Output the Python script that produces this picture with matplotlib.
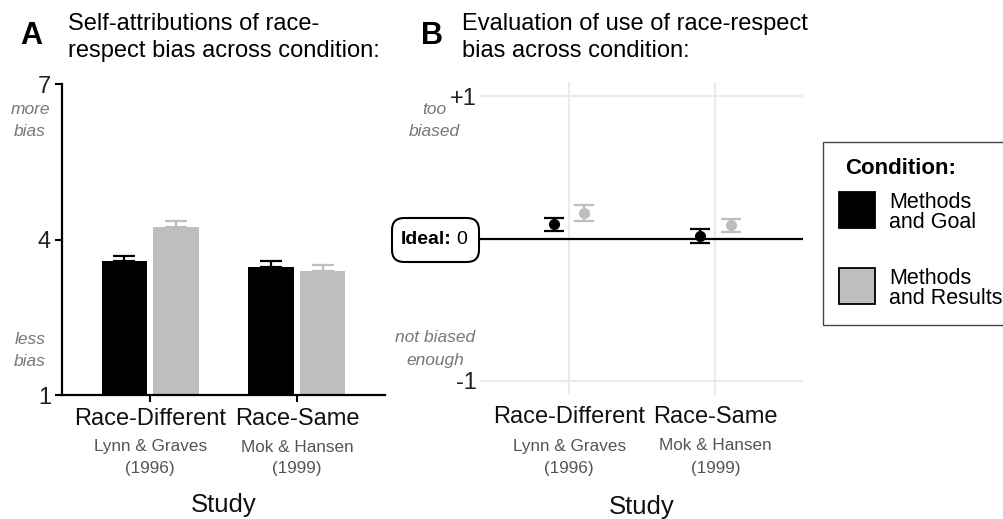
import matplotlib.pyplot as plt
from matplotlib.patches import FancyBboxPatch, Rectangle
import matplotlib.transforms as mtransforms
import numpy as np

plt.rcParams['font.family'] = ['Liberation Sans', 'DejaVu Sans']

# Data
categories = ["Race-Different", "Race-Same"]
studies = ["Lynn & Graves\n(1996)", "Mok & Hansen\n(1999)"]
conditions = ["Methods\nand Goal", "Methods\nand Results"]

# Panel A: self-attributed bias (1-7 scale), mean and SE
self_goal = [3.58, 3.47]
self_goal_se = [0.11, 0.11]
self_results = [4.24, 3.39]
self_results_se = [0.11, 0.11]

# Panel B: evaluation of bias use (-1..+1), mean and SE
eval_goal = [0.10, 0.016]
eval_goal_se = [0.047, 0.05]
eval_results = [0.18, 0.093]
eval_results_se = [0.055, 0.044]

BLACK = '#000000'
GRAY = '#bebebe'
NOTE = '#777777'
SUB = '#555555'

W, H = 1004, 519
fig = plt.figure(figsize=(W / 100, H / 100), dpi=100)


def fx(x):
    return x / W


def fy(y):
    return 1 - y / H


def axes_px(x0, y0, x1, y1):
    return fig.add_axes([fx(x0), fy(y1), fx(x1) - fx(x0), fy(y0) - fy(y1)])


x = np.arange(1, len(categories) + 1)

# ---------------- Panel A ----------------
axA = axes_px(62, 84, 385, 395)
bw = 0.31
off = 0.175
axA.errorbar(x - off, self_goal, yerr=[[0, 0], self_goal_se], fmt='none',
             ecolor=BLACK, elinewidth=1.6, capsize=8, capthick=1.6, zorder=1)
axA.errorbar(x + off, self_results, yerr=[[0, 0], self_results_se], fmt='none',
             ecolor=GRAY, elinewidth=1.6, capsize=8, capthick=1.6, zorder=1)
axA.bar(x - off, np.array(self_goal) - 1, bottom=1, width=bw, color=BLACK, zorder=2)
axA.bar(x + off, np.array(self_results) - 1, bottom=1, width=bw, color=GRAY, zorder=2)
axA.set_xlim(0.40, 2.6)
axA.set_ylim(1, 7)
axA.set_yticks([1, 4, 7])
axA.set_yticklabels(['1', '4', '7'], fontsize=17, color='#222222')
axA.set_xticks(x)
axA.set_xticklabels([])
axA.tick_params(axis='y', length=5, width=1.5, pad=3)
axA.tick_params(axis='x', length=5, width=1.5)
for s in ['top', 'right']:
    axA.spines[s].set_visible(False)
for s in ['left', 'bottom']:
    axA.spines[s].set_linewidth(1.6)

# ---------------- Panel B ----------------
axB = axes_px(480, 82, 803, 395)
dodge = 0.105
axB.errorbar(x - dodge, eval_goal, yerr=eval_goal_se, fmt='o', color=BLACK,
             ms=7, elinewidth=1.6, capsize=7.5, capthick=1.6, zorder=3)
axB.errorbar(x + dodge, eval_results, yerr=eval_results_se, fmt='o', color=GRAY,
             ms=7, elinewidth=1.6, capsize=7.5, capthick=1.6, zorder=3)
axB.axhline(0, color=BLACK, lw=1.6, zorder=2)
axB.set_xlim(0.39, 2.6)
axB.set_ylim(-1.1, 1.1)
axB.set_yticks([-1, 1])
axB.set_yticklabels(['-1', '+1'], fontsize=17, color='#222222')
axB.set_xticks(x)
axB.set_xticklabels([])
axB.tick_params(length=0, pad=2)
axB.grid(True, color='#ebebeb', lw=1.6, zorder=0)
axB.set_axisbelow(True)
for s in axB.spines.values():
    s.set_visible(False)

# ---------------- category labels ----------------
for ax, ys in [(axA, (419, 447, 469, 505)), (axB, (417, 446, 468, 507))]:
    tr = mtransforms.blended_transform_factory(ax.transData, fig.transFigure)
    for xi, cat, st in zip(x, categories, studies):
        ax.text(xi, fy(ys[0]), cat, transform=tr, ha='center', va='center',
                fontsize=17, color='#111111')
        l1, l2 = st.split('\n')
        ax.text(xi, fy(ys[1]), l1, transform=tr, ha='center', va='center',
                fontsize=12.3, color=SUB)
        ax.text(xi, fy(ys[2]), l2, transform=tr, ha='center', va='center',
                fontsize=12.3, color=SUB)
    mid = np.mean(ax.get_xlim())
    ax.text(mid, fy(ys[3]), 'Study', transform=tr, ha='center', va='center',
            fontsize=18.5, color='#111111')

# ---------------- titles ----------------
fig.text(fx(20), fy(36), 'A', fontsize=22, fontweight='bold', va='center', ha='left')
fig.text(fx(68), fy(24), 'Self-attributions of race-', fontsize=17, va='center', ha='left')
fig.text(fx(68), fy(51), 'respect bias across condition:', fontsize=17, va='center', ha='left')
fig.text(fx(421), fy(36), 'B', fontsize=22, fontweight='bold', va='center', ha='left')
fig.text(fx(462), fy(24), 'Evaluation of use of race-respect', fontsize=17, va='center', ha='left')
fig.text(fx(462), fy(51), 'bias across condition:', fontsize=17, va='center', ha='left')

# ---------------- scale notes ----------------
note = dict(fontsize=12.5, style='italic', color=NOTE, ha='center', va='center')
fig.text(fx(30), fy(110), 'more', **note)
fig.text(fx(30), fy(132), 'bias', **note)
fig.text(fx(30), fy(339), 'less', **note)
fig.text(fx(30), fy(361), 'bias', **note)
fig.text(fx(434), fy(110), 'too', **note)
fig.text(fx(434), fy(132), 'biased', **note)
fig.text(fx(435), fy(338), 'not biased', **note)
fig.text(fx(435), fy(360), 'enough', **note)

# ---------------- Ideal box ----------------
box = FancyBboxPatch((fx(392), fy(262)), fx(479) - fx(392), fy(218) - fy(262),
                     boxstyle='round,pad=0,rounding_size=0.012',
                     transform=fig.transFigure, facecolor='white',
                     edgecolor=BLACK, lw=1.5, mutation_aspect=W / H)
fig.patches.append(box)
fig.text(fx(452), fy(240), 'Ideal:', fontsize=14, fontweight='bold', ha='right', va='center')
fig.text(fx(456), fy(240), '0', fontsize=14, ha='left', va='center')

# ---------------- legend ----------------
fig.patches.append(Rectangle((fx(823), fy(325)), fx(1010) - fx(823), fy(142) - fy(325),
                             transform=fig.transFigure, facecolor='white',
                             edgecolor='#444444', lw=1.0))
fig.text(fx(845), fy(168), 'Condition:', fontsize=16, fontweight='bold', ha='left', va='center')
for col, lab, ytop in [(BLACK, conditions[0], 192), (GRAY, conditions[1], 268)]:
    fig.patches.append(Rectangle((fx(839), fy(ytop + 36)), fx(875) - fx(839), fy(ytop) - fy(ytop + 36),
                                 transform=fig.transFigure, facecolor=col,
                                 edgecolor=BLACK, lw=1.3))
    l1, l2 = lab.split('\n')
    fig.text(fx(889), fy(ytop + 10), l1, fontsize=15.5, ha='left', va='center')
    fig.text(fx(889), fy(ytop + 31), l2, fontsize=15.5, ha='left', va='center')

fig.savefig('out.png', dpi=100)
